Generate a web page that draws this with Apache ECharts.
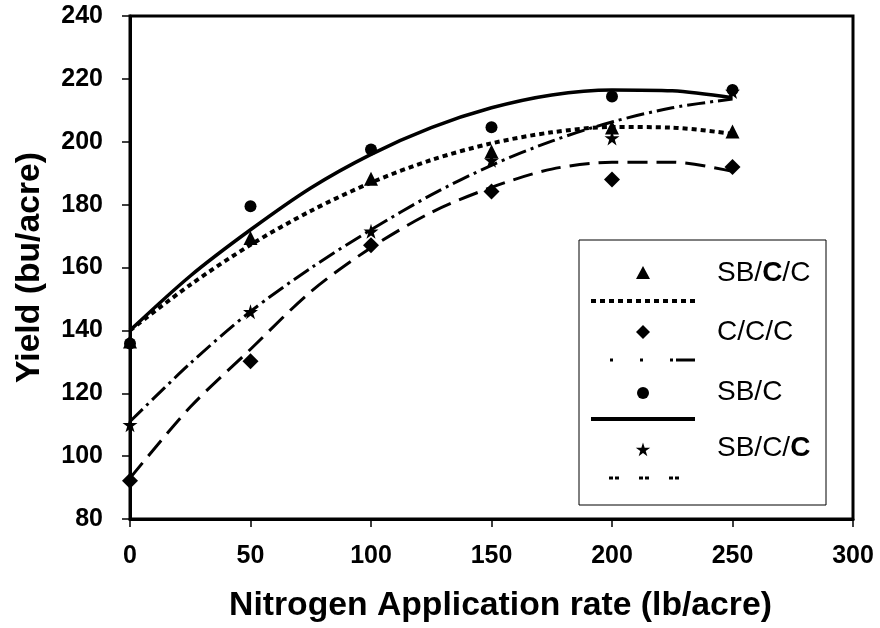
<!DOCTYPE html>
<html>
<head>
<meta charset="utf-8">
<script src="https://cdn.jsdelivr.net/npm/echarts@6/dist/echarts.min.js"></script>
<style>html,body{margin:0;padding:0;background:#fff}#c{width:880px;height:628px}</style>
</head>
<body>
<div id="c"></div>
<script>
// ---- data ----
const xVals = [0, 50, 100, 150, 200, 250];
const xTicks = [0, 50, 100, 150, 200, 250, 300];
const yTicks = [80, 100, 120, 140, 160, 180, 200, 220, 240];
// observed yields (bu/acre)
const sbcc = [136.5, 169.4, 188.2, 196.9, 204.5, 203.3];      // SB/C/C (triangles)
const ccc = [92.2, 130.2, 167.1, 184.2, 188, 192];            // C/C/C (diamonds)
const sbc = [135.8, 179.5, 197.5, 204.6, 214.4, 216.5];       // SB/C (circles)
const sbccLast = [110, 145.9, 171.5, 194.1, 201.2, 216];      // SB/C/C bold last (stars)
// trend curves, every 25 lb/acre
const trendX = [0, 25, 50, 75, 100, 125, 150, 175, 200, 225, 250];
const sbccTrend = [140, 154.5, 167.2, 178, 187, 194.2, 199.5, 203, 204.7, 204.5, 202.5];
const cccTrend = [93, 115.6, 134, 152.3, 166.3, 177.5, 185.5, 191.3, 193.5, 193.5, 190.6];
const sbcTrend = [140, 157.3, 172, 185.3, 196, 204.5, 210.8, 214.9, 216.5, 216.2, 214];
const sbccLastTrend = [111, 129.5, 146, 159.8, 172, 183.1, 192.5, 200.2, 206.3, 210.8, 213.6];

const FONT = "'Liberation Sans', Arial, sans-serif";
const STAR_PTS = [[50,0],[61,35],[98,35],[68,57],[79,91],[50,70],[21,91],[32,57],[2,35],[39,35]];
const STAR = 'path://M' + STAR_PTS.map(p => p.join(',')).join(' L') + ' Z';
const pair = (xs, arr) => xs.map((x, i) => [x, arr[i]]);

const chart = echarts.init(document.getElementById('c'), null, {renderer: 'canvas'});

function scatter(name, arr, symbol, size) {
  return {type: 'scatter', name, data: pair(xVals, arr), symbol, symbolSize: size,
    itemStyle: {color: '#000', opacity: 1}, z: 5, silent: true};
}
function trend(name, arr, width, dash) {
  return {type: 'line', name, data: pair(trendX, arr), smooth: 0.3, showSymbol: false, symbol: 'none',
    lineStyle: {color: '#000', width, type: dash, cap: 'butt'}, z: 3, silent: true};
}
const starIcon = (cx, cy, s) => STAR_PTS.map(p => [cx + (p[0] - 50) * s / 100, cy + (p[1] - 50) * s / 100]);
const legendText = (y, text) => ({type: 'text', z: 11, x: 717, y,
  style: {text, font: '28px ' + FONT, fill: '#000', verticalAlign: 'middle',
    rich: {b: {fontFamily: FONT, fontSize: 28, fontWeight: 'bold', fill: '#000'}}}});

chart.setOption({
  animation: false,
  backgroundColor: '#fff',
  grid: {left: 130, right: 27, top: 16, bottom: 108, show: true, borderColor: '#000', borderWidth: 3},
  xAxis: {
    type: 'value', min: 0, max: 300, interval: 50,
    name: 'Nitrogen Application rate (lb/acre)', nameLocation: 'middle', nameGap: 70,
    nameTextStyle: {fontFamily: FONT, fontWeight: 'bold', fontSize: 33.7, color: '#000', padding: [0, 0, 0, 18]},
    axisLine: {lineStyle: {color: '#000', width: 3}},
    axisTick: {length: 8, lineStyle: {color: '#000', width: 1.5}},
    axisLabel: {margin: 25, fontFamily: FONT, fontWeight: 'bold', fontSize: 25, color: '#000'},
    splitLine: {show: false}
  },
  yAxis: {
    type: 'value', min: 80, max: 240, interval: 20,
    name: 'Yield (bu/acre)', nameLocation: 'middle', nameGap: 83,
    nameTextStyle: {fontFamily: FONT, fontWeight: 'bold', fontSize: 33.7, color: '#000'},
    axisLine: {lineStyle: {color: '#000', width: 3}},
    axisTick: {length: 8, lineStyle: {color: '#000', width: 1.5}},
    axisLabel: {margin: 27, fontFamily: FONT, fontWeight: 'bold', fontSize: 25, color: '#000'},
    splitLine: {show: false}
  },
  series: [
    trend('SB/C/C trend', sbccTrend, 4, [5, 4]),
    trend('C/C/C trend', cccTrend, 3, [20, 9]),
    trend('SB/C trend', sbcTrend, 3.5, 'solid'),
    trend('SB/C/C* trend', sbccLastTrend, 3, [18, 5, 3, 5]),
    scatter('SB/C/C', sbcc, 'triangle', 14),
    scatter('C/C/C', ccc, 'diamond', 16),
    scatter('SB/C', sbc, 'circle', 12),
    scatter('SB/C/C*', sbccLast, STAR, 15)
  ],
  graphic: [
    {type: 'rect', z: 10, shape: {x: 579, y: 240, width: 247, height: 265}, style: {fill: '#fff', stroke: '#000', lineWidth: 1}},
    {type: 'polygon', z: 11, shape: {points: [[643, 266], [650, 279], [636, 279]]}, style: {fill: '#000'}},
    {type: 'polygon', z: 11, shape: {points: [[643, 325], [650, 332], [643, 339], [636, 332]]}, style: {fill: '#000'}},
    {type: 'circle', z: 11, shape: {cx: 643, cy: 393, r: 6}, style: {fill: '#000'}},
    {type: 'polygon', z: 11, shape: {points: starIcon(643, 450, 15)}, style: {fill: '#000'}},
    {type: 'line', z: 11, shape: {x1: 591, y1: 301, x2: 695, y2: 301}, style: {stroke: '#000', lineWidth: 4, lineDash: [5, 4]}},
    {type: 'line', z: 11, shape: {x1: 610, y1: 360, x2: 695, y2: 360}, style: {stroke: '#000', lineWidth: 3, lineDash: [3, 27, 3, 27, 3, 3, 19, 0]}},
    {type: 'line', z: 11, shape: {x1: 591, y1: 419, x2: 695, y2: 419}, style: {stroke: '#000', lineWidth: 4}},
    {type: 'line', z: 11, shape: {x1: 609, y1: 478, x2: 682, y2: 478}, style: {stroke: '#000', lineWidth: 3, lineDash: [4, 2, 4, 20]}},
    legendText(273, 'SB/{b|C}/C'),
    legendText(332, 'C/C/C'),
    legendText(392, 'SB/C'),
    legendText(448, 'SB/C/{b|C}')
  ]
});
</script>
</body>
</html>
